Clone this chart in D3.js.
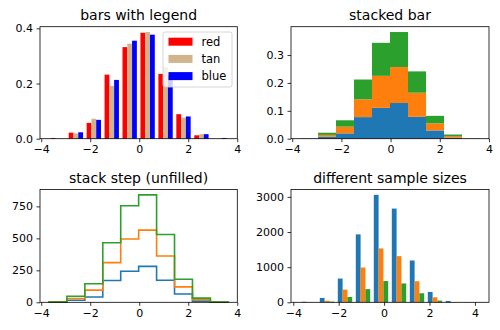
<!DOCTYPE html>
<html><head>
<meta charset="utf-8">
<title>histogram types</title>
<script src="https://d3js.org/d3.v7.min.js"></script>
<style>
  body { margin: 0; background: #fff; }
  svg text { font-family: "DejaVu Sans", sans-serif; fill: #000; }
  text.title { font-size: 14px; text-anchor: middle; }
  .tick text { font-size: 11px; }
  .tick line { stroke: #000; stroke-width: 0.8; }
  text.legend { font-size: 11.5px; }
</style>
</head>
<body>
<svg id="hists" width="500" height="330"></svg>

<script>

// 10 bins shared by the three 1000-sample sets
const binEdges = [-3.684, -2.952, -2.220, -1.488, -0.756, -0.024, 0.708, 1.440, 2.172, 2.904, 3.636];
const countsA = [2, 16, 42, 170, 243, 281, 172, 65, 9, 0];
const countsB = [0, 14, 53, 140, 252, 283, 190, 56, 12, 0];
const countsC = [0, 17, 50, 156, 260, 276, 168, 59, 12, 2];
const legendLabels = ["red", "tan", "blue"];
const legendColors = ["#ff0000", "#d2b48c", "#0000ff"];

// sets of 10000, 5000 and 2000 samples
const multiEdges = [-3.704, -2.911, -2.118, -1.326, -0.533, 0.260, 1.053, 1.845, 2.638, 3.431, 4.224];
const multiA = [15, 124, 676, 1933, 3057, 2667, 1190, 295, 38, 5];
const multiB = [5, 43, 362, 990, 1533, 1314, 600, 143, 8, 2];
const multiC = [1, 20, 152, 375, 605, 537, 257, 48, 4, 1];

const xTicks = [-4, -2, 0, 2, 4];
const yTicksBars = [0, 0.2, 0.4];
const yTicksStacked = [0, 0.1, 0.2, 0.3];
const yTicksStep = [0, 250, 500, 750];
const yTicksMulti = [0, 1000, 2000, 3000];

const mplColors = ["#1f77b4", "#ff7f0e", "#2ca02c"];

const svg = d3.select("#hists");

// turn counts + edges into bin records
function toBins(edges, counts) {
  return counts.map((c, i) => ({x0: edges[i], x1: edges[i + 1], count: c}));
}

// x limits get a 5% margin each side, like the usual autoscale
function paddedExtent(edges) {
  const lo = edges[0], hi = edges[edges.length - 1], m = 0.05 * (hi - lo);
  return [lo - m, hi + m];
}

function makePanel(box, xDomain, yMax, title) {
  const g = svg.append("g");
  const x = d3.scaleLinear().domain(xDomain).range([box.left, box.right]);
  const y = d3.scaleLinear().domain([0, yMax * 1.05]).range([box.bottom, box.top]);
  const marks = g.append("g");
  return {g, x, y, marks, box, title};
}

function finishPanel(p, yTicks, yFmt) {
  const {g, x, y, box} = p;
  g.append("rect")
    .attr("x", box.left).attr("y", box.top)
    .attr("width", box.right - box.left).attr("height", box.bottom - box.top)
    .attr("fill", "none").attr("stroke", "#000").attr("stroke-width", 0.8);

  const xAxis = g.append("g")
    .attr("transform", "translate(0," + box.bottom + ")")
    .call(d3.axisBottom(x).tickValues(xTicks).tickSize(3.5).tickPadding(3.5)
      .tickFormat(d3.format("d")));
  xAxis.select(".domain").remove();

  const yAxis = g.append("g")
    .attr("transform", "translate(" + box.left + ",0)")
    .call(d3.axisLeft(y).tickValues(yTicks).tickSize(3.5).tickPadding(3.5)
      .tickFormat(d3.format(yFmt)));
  yAxis.select(".domain").remove();

  g.append("text").attr("class", "title")
    .attr("x", (box.left + box.right) / 2).attr("y", box.top - 7)
    .text(p.title);
}

// grouped bars: 80% of each bin split between the sets
function groupedBars(p, sets, colors, edges, valueOf) {
  const n = sets.length;
  sets.forEach((counts, k) => {
    p.marks.append("g").selectAll("rect")
      .data(toBins(edges, counts))
      .join("rect")
      .attr("x", d => p.x(d.x0 + 0.1 * (d.x1 - d.x0) + k * 0.8 * (d.x1 - d.x0) / n))
      .attr("width", d => (p.x(d.x1) - p.x(d.x0)) * 0.8 / n)
      .attr("y", d => p.y(valueOf(d, k)))
      .attr("height", d => p.y(0) - p.y(valueOf(d, k)))
      .attr("fill", colors[k]);
  });
}

const topRow = {top: 26.7, bottom: 138.7};
const botRow = {top: 189.5, bottom: 302.3};
const leftCol = {left: 40, right: 237.3};
const rightCol = {left: 291, right: 489};

const sets3 = [countsA, countsB, countsC];
const binWidth = i => binEdges[i + 1] - binEdges[i];

// ---- bars with legend (density per set)
const dens = sets3.map(cs => cs.map((c, i) => c / (1000 * binWidth(i))));
const p0 = makePanel({...topRow, ...leftCol}, paddedExtent(binEdges),
  d3.max(dens.flat()), "bars with legend");
groupedBars(p0, sets3, legendColors, binEdges, (d, k) => d.count / (1000 * (d.x1 - d.x0)));
finishPanel(p0, yTicksBars, ".1f");

// legend box
const lg = p0.g.append("g");
const lgBox = {x: 163, y: 32, w: 69, h: 55};
lg.append("rect")
  .attr("x", lgBox.x).attr("y", lgBox.y).attr("width", lgBox.w).attr("height", lgBox.h)
  .attr("rx", 2).attr("fill", "#fff").attr("fill-opacity", 0.8)
  .attr("stroke", "#cccccc").attr("stroke-width", 0.8);
legendLabels.forEach((lab, k) => {
  const cy = 41.7 + k * 17.2;
  lg.append("rect").attr("x", 168.5).attr("y", cy - 4).attr("width", 24).attr("height", 8)
    .attr("fill", legendColors[k]);
  lg.append("text").attr("class", "legend").attr("x", 201.5).attr("y", cy + 4).text(lab);
});

// ---- stacked bar (density of the combined 3000 samples)
const stackCum = binEdges.slice(0, -1).map((e, i) => {
  let acc = 0;
  return sets3.map(cs => { const y0 = acc; acc += cs[i]; return [y0, acc]; });
});
const p1 = makePanel({...topRow, ...rightCol}, paddedExtent(binEdges),
  d3.max(stackCum, (s, i) => s[2][1] / (3000 * binWidth(i))), "stacked bar");
sets3.forEach((cs, k) => {
  p1.marks.append("g").selectAll("rect")
    .data(toBins(binEdges, cs).map((d, i) => ({...d, y0: stackCum[i][k][0] / (3000 * binWidth(i)), y1: stackCum[i][k][1] / (3000 * binWidth(i))})))
    .join("rect")
    .attr("x", d => p1.x(d.x0))
    .attr("width", d => p1.x(d.x1) - p1.x(d.x0))
    .attr("y", d => p1.y(d.y1))
    .attr("height", d => p1.y(d.y0) - p1.y(d.y1))
    .attr("fill", mplColors[k]);
});
finishPanel(p1, yTicksStacked, ".1f");

// ---- stack step (unfilled): outline of each cumulative layer
const p2 = makePanel({...botRow, ...leftCol}, paddedExtent(binEdges),
  d3.max(stackCum, s => s[2][1]), "stack step (unfilled)");
const stepLine = d3.line().x(d => p2.x(d[0])).y(d => p2.y(d[1]));
sets3.forEach((cs, k) => {
  const pts = [[binEdges[0], 0]];
  stackCum.forEach((s, i) => {
    pts.push([binEdges[i], s[k][1]]);
    pts.push([binEdges[i + 1], s[k][1]]);
  });
  pts.push([binEdges[binEdges.length - 1], 0]);
  p2.marks.append("path").attr("d", stepLine(pts))
    .attr("fill", "none").attr("stroke", mplColors[k]).attr("stroke-width", 1.6);
});
finishPanel(p2, yTicksStep, "d");

// ---- different sample sizes (raw counts)
const multiSets = [multiA, multiB, multiC];
const p3 = makePanel({...botRow, ...rightCol}, paddedExtent(multiEdges),
  d3.max(multiSets.flat()), "different sample sizes");
groupedBars(p3, multiSets, mplColors, multiEdges, d => d.count);
finishPanel(p3, yTicksMulti, "d");

</script>
</body>
</html>
